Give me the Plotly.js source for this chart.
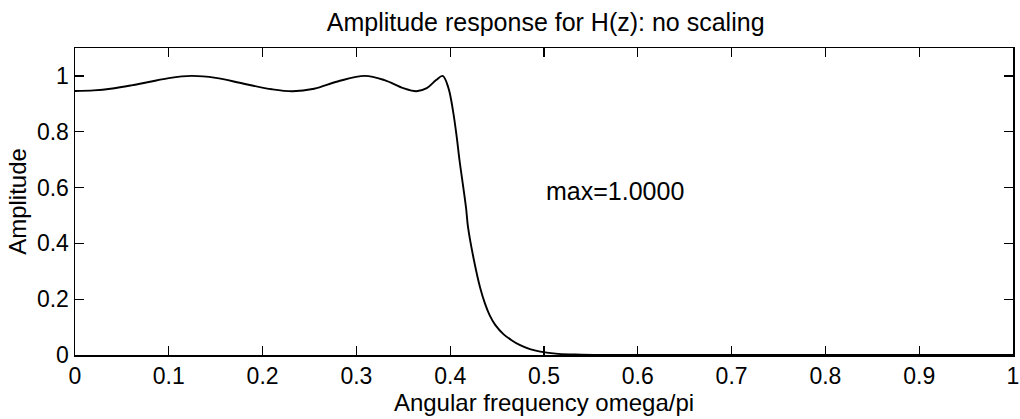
<!DOCTYPE html>
<html>
<head>
<meta charset="utf-8">
<script src="https://cdn.plot.ly/plotly-3.0.1.min.js"></script>
<style>html,body{margin:0;padding:0;background:#fff;}#chart{width:1020px;height:419px;}</style>
</head>
<body>
<div id="chart"></div>
<script>
// Normalised angular frequency (omega/pi)
const freq = [0, 0.02, 0.04, 0.06, 0.08, 0.10, 0.124, 0.15, 0.18, 0.21, 0.232, 0.255, 0.28, 0.309, 0.33, 0.35, 0.364, 0.375, 0.385, 0.392, 0.398, 0.403, 0.407, 0.410, 0.414, 0.417, 0.419, 0.425, 0.432, 0.437, 0.442, 0.448, 0.457, 0.465, 0.474, 0.485, 0.496, 0.515, 0.54, 0.58, 0.65, 0.75, 0.85, 1.0];
// Amplitude response |H|
const amplitude = [0.946, 0.948, 0.955, 0.966, 0.979, 0.992, 1.0, 0.993, 0.972, 0.952, 0.945, 0.954, 0.980, 1.0, 0.985, 0.956, 0.945, 0.956, 0.985, 1.0, 0.958, 0.875, 0.78, 0.696, 0.60, 0.524, 0.458, 0.345, 0.240, 0.185, 0.143, 0.108, 0.074, 0.054, 0.036, 0.021, 0.012, 0.004, 0.0015, 0.0004, 0.0001, 0, 0, 0];
const xTickVals = [0, 0.1, 0.2, 0.3, 0.4, 0.5, 0.6, 0.7, 0.8, 0.9, 1];
const xTickText = ["0", "0.1", "0.2", "0.3", "0.4", "0.5", "0.6", "0.7", "0.8", "0.9", "1"];
const yTickVals = [0, 0.2, 0.4, 0.6, 0.8, 1];
const yTickText = ["0", "0.2", "0.4", "0.6", "0.8", "1"];
const titleText = "Amplitude response for H(z): no scaling";
const xTitle = "Angular frequency omega/pi";
const yTitle = "Amplitude";
const noteText = "max=1.0000";
const notePos = {x: 0.5, y: 0.587};

const FONT = "Liberation Sans, Arial, Helvetica, sans-serif";

const trace = {
  x: freq, y: amplitude, type: "scatter", mode: "lines",
  line: {color: "#000", width: 1.9, shape: "spline", smoothing: 1},
  hoverinfo: "skip", showlegend: false
};

const axisCommon = {
  showline: true, linecolor: "#000", linewidth: 1.5, mirror: "ticks",
  ticks: "inside", ticklen: 9, tickwidth: 1.3, tickcolor: "#000",
  showgrid: false, zeroline: false,
  tickfont: {family: FONT, size: 23, color: "#000"}
};

const layout = {
  width: 1020, height: 419,
  margin: {l: 75, r: 7, t: 48, b: 64},
  paper_bgcolor: "#fff", plot_bgcolor: "#fff",
  font: {family: FONT, color: "#000"},
  title: {text: titleText, font: {family: FONT, size: 25, color: "#000"}, x: 0.535, xanchor: "center", y: 0.948, yanchor: "middle"},
  xaxis: Object.assign({}, axisCommon, {
    range: [0, 1], tickvals: xTickVals, ticktext: xTickText,
    title: {text: xTitle, font: {family: FONT, size: 24, color: "#000"}, standoff: 0}
  }),
  yaxis: Object.assign({}, axisCommon, {
    range: [0, 1.1], tickvals: yTickVals, ticktext: yTickText,
    title: {text: yTitle, font: {family: FONT, size: 24, color: "#000"}, standoff: 3}
  }),
  annotations: [{
    x: notePos.x, y: notePos.y, xref: "x", yref: "y", text: noteText,
    showarrow: false, xanchor: "left", yanchor: "middle",
    font: {family: FONT, size: 25, color: "#000"}
  }]
};

Plotly.newPlot("chart", [trace], layout, {displayModeBar: false, staticPlot: true});
</script>
</body>
</html>
